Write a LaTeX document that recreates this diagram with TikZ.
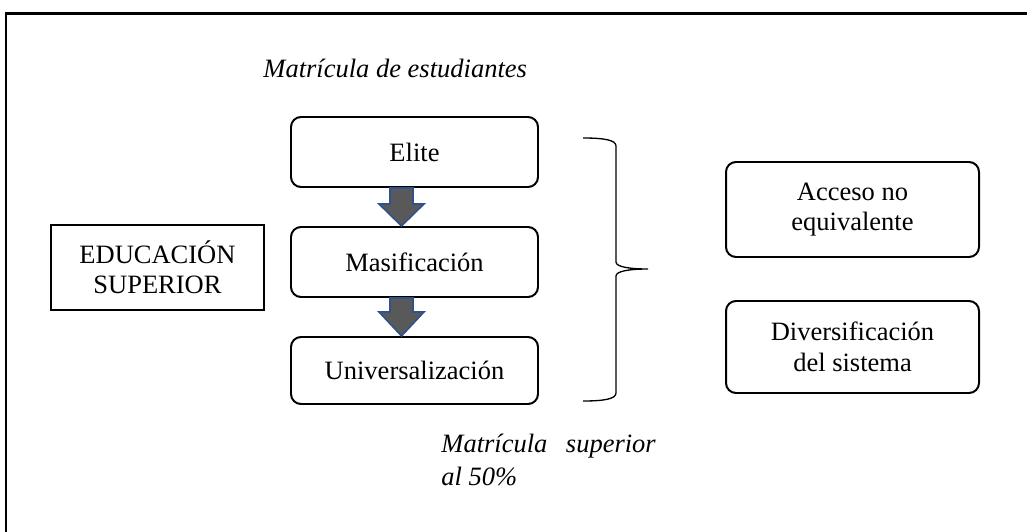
\documentclass[tikz,border=0pt]{standalone}
\usepackage{fontspec}
\setmainfont{Liberation Serif}
\usepackage{xcolor}
\definecolor{textdark}{HTML}{000000}
\definecolor{arrowfill}{HTML}{595959}
\definecolor{arrowline}{HTML}{2F528F}
\usepackage{tikz}
\usetikzlibrary{calc,positioning}
\newcommand{\pxu}{0.01592cm}

\begin{document}
\begin{tikzpicture}[x=\pxu, y=-\pxu,
    txt/.style={font=\fontsize{12}{13.8}\selectfont, text=textdark, inner sep=0pt},
    stagebox/.style={txt, draw, rounded corners=10*\pxu, line width=0.9pt, minimum width=247*\pxu, align=center},
    sidebox/.style={txt, draw, rounded corners=10*\pxu, line width=0.9pt, minimum width=253*\pxu, align=center},
    blockarr/.style={fill=arrowfill, draw=arrowline, line width=0.7pt, line join=miter}]
        \useasboundingbox (0,0) rectangle (1027,532);
        \clip (0,0) rectangle (1027,532);
        % Outer frame
        \draw[line width=1.3pt] (6,560) -- (6,13.5) -- (1060,13.5);

        \node[txt, anchor=base west, font=\fontsize{12}{13.8}\selectfont\itshape] (title) at (263,77) {Matrícula de estudiantes};

        % Stage boxes
        \node[stagebox, minimum height=70*\pxu] (elite) at (414.5,152) {Elite};
        \node[stagebox, minimum height=70*\pxu] (masif) at (414.5,262) {Masificación};
        \node[stagebox, minimum height=67*\pxu] (univ) at (414.5,370.5) {Universalización};

        \node[txt, draw, line width=0.5pt, minimum width=213*\pxu, minimum height=85*\pxu, align=center] (edu) at (157.5,267.5) {EDUCACIÓN\\SUPERIOR};

        % Block arrows
        \path (elite.south) ++(-13,0) coordinate (a1s);
        \path (masif.north) ++(-13,0) coordinate (a1e);
        \path (masif.south) ++(-13,0) coordinate (a2s);
        \path (univ.north) ++(-13,0) coordinate (a2e);
        \filldraw[blockarr] ($(a1s)+(-11.5,0)$) -- ($(a1e)+(-11.5,-22)$) -- ($(a1e)+(-22.5,-22)$) -- (a1e)
            -- ($(a1e)+(22.5,-22)$) -- ($(a1e)+(11.5,-22)$) -- ($(a1s)+(11.5,0)$) -- cycle;
        \filldraw[blockarr] ($(a2s)+(-11.5,0)$) -- ($(a2e)+(-11.5,-24)$) -- ($(a2e)+(-22.5,-24)$) -- (a2e)
            -- ($(a2e)+(22.5,-24)$) -- ($(a2e)+(11.5,-24)$) -- ($(a2s)+(11.5,0)$) -- cycle;

        % Brace
        \draw[line width=0.6pt] (583,138) .. controls (604,138) and (616,140) .. (616,146) -- (616,262)
            .. controls (616,267) and (630,269) .. (648,269) .. controls (630,269) and (616,271) .. (616,276)
            -- (616,393) .. controls (616,399) and (604,401) .. (583,401);

        % Outcomes
        \node[sidebox, minimum height=95*\pxu] (acceso) at (852.5,209.5) {Acceso no\\equivalente};
        \node[sidebox, minimum height=92*\pxu] (divers) at (852.5,347) {Diversificación\\del sistema};

        \node[txt, anchor=base west, align=left, font=\fontsize{12}{14.5}\selectfont\itshape] (note) at (441,485) {Matrícula\hspace{0.7em}superior\\al 50\%};
      \end{tikzpicture}
\end{document}
